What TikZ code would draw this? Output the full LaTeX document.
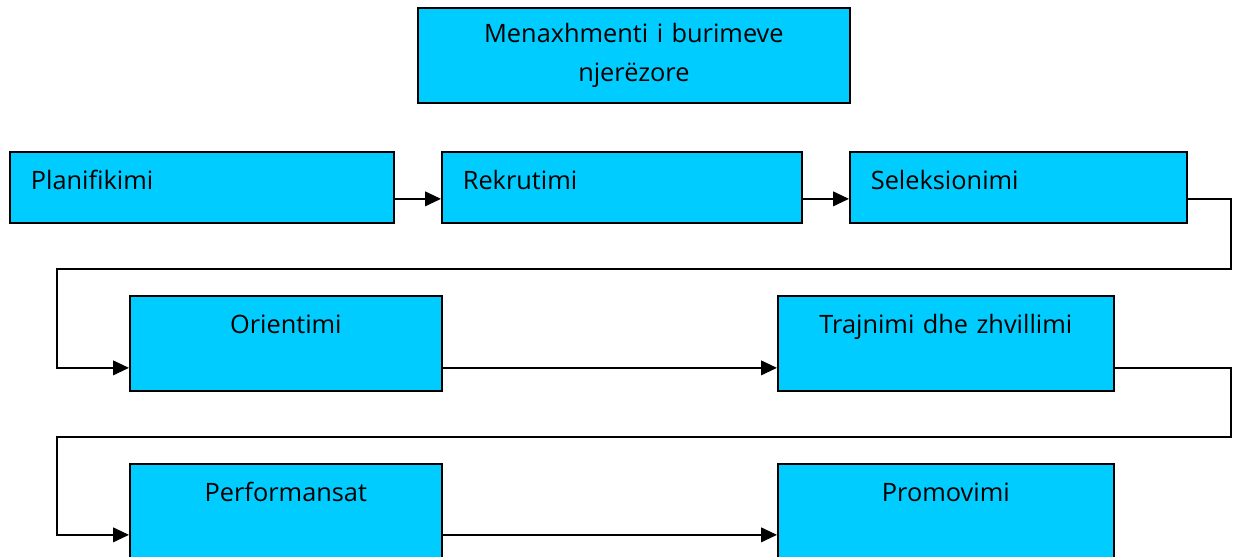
\documentclass[tikz,border=0pt]{standalone}
\usepackage{fontspec}
\setmainfont{Open Sans}
\usetikzlibrary{arrows.meta, positioning, calc}
\definecolor{HRMBlue}{RGB}{0, 204, 255}

\begin{document}
\begin{tikzpicture}[
    x=0.75pt, y=-0.75pt,
    every node/.style={font=\fontsize{19}{29.25}\selectfont},
    box/.style={rectangle, draw=black, fill=HRMBlue, line width=1.3pt, inner sep=0pt, anchor=north west},
    headbox/.style={box, align=center, minimum height=71.25pt},
    stepbox/.style={box, align=left, inner xsep=15.75pt, text height=28.5pt, text depth=24.75pt},
    stagebox/.style={box, align=center, text height=28.5pt, text depth=42.75pt},
    arrow/.style={-{Triangle[length=12pt, width=11pt]}, draw=black, line width=1.4pt}
  ]
    \useasboundingbox (0,0) rectangle (1240,557);

    % Title
    \node[headbox, text width=324pt] (hrm) at (417,7) {Menaxhmenti i burimeve\\njerëzore};

    % Row 1
    \node[stepbox, text width=256.5pt] (plan) at (9,151) {Planifikimi};
    \node[stepbox, text width=238.5pt] (rekr) at (441,151) {Rekrutimi};
    \node[stepbox, text width=221.25pt] (sel) at (849,151) {Seleksionimi};

    % Row 2
    \node[stagebox, text width=234pt] (ori) at (129,295) {Orientimi};
    \node[stagebox, text width=252pt] (tra) at (777,295) {Trajnimi dhe zhvillimi};

    % Row 3
    \node[stagebox, text width=234pt] (perf) at (129,463) {Performansat};
    \node[stagebox, text width=252pt] (prom) at (777,463) {Promovimi};

    % Connections
    \draw[arrow] ($(plan.east)+(0,11.5)$) -- ($(rekr.west)+(0,11.5)$);
    \draw[arrow] ($(rekr.east)+(0,11.5)$) -- ($(sel.west)+(0,11.5)$);
    \draw[arrow] ($(sel.east)+(0,11.5)$) -| (1231,269) -- (57,269) |- ($(ori.west)+(0,24.5)$);
    \draw[arrow] ($(ori.east)+(0,24.5)$) -- ($(tra.west)+(0,24.5)$);
    \draw[arrow] ($(tra.east)+(0,24.5)$) -| (1231,437) -- (57,437) |- ($(perf.west)+(0,23.5)$);
    \draw[arrow] ($(perf.east)+(0,23.5)$) -- ($(prom.west)+(0,23.5)$);
  \end{tikzpicture}
\end{document}
